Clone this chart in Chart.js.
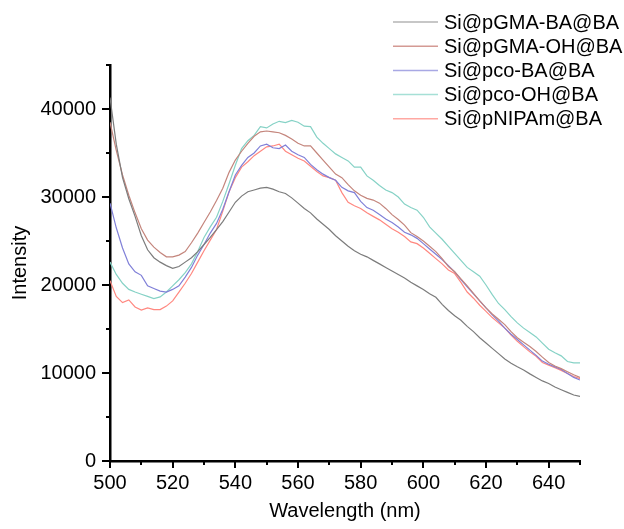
<!DOCTYPE html>
<html>
<head>
<meta charset="utf-8">
<script src="https://cdn.jsdelivr.net/npm/chart.js@4/dist/chart.umd.min.js"></script>
<style>
  body { margin: 0; background: #fff; }
  canvas { display: block; }
</style>
</head>
<body>
<canvas id="chart" width="624" height="529"></canvas>
<script>
// wavelength (nm), every 2 nm
var wavelengths = [500, 502, 504, 506, 508, 510, 512, 514, 516, 518, 520, 522, 524, 526, 528,
    530, 532, 534, 536, 538, 540, 542, 544, 546, 548, 550, 552, 554, 556, 558,
    560, 562, 564, 566, 568, 570, 572, 574, 576, 578, 580, 582, 584, 586, 588,
    590, 592, 594, 596, 598, 600, 602, 604, 606, 608, 610, 612, 614, 616, 618,
    620, 622, 624, 626, 628, 630, 632, 634, 636, 638, 640, 642, 644, 646, 648, 650];

var pGMA_BA = [41300, 36000, 32200, 29800, 27800, 25600, 24000, 23100, 22600, 22200, 21900, 22100, 22600, 23100, 23800,
    24600, 25400, 26300, 27200, 28300, 29400, 30100, 30600, 30800, 31000, 31100, 30900, 30600, 30400, 29900,
    29300, 28700, 28200, 27500, 26900, 26300, 25600, 25000, 24400, 23900, 23500, 23200, 22800, 22400, 22000,
    21600, 21200, 20800, 20300, 19900, 19500, 19000, 18600, 17800, 17100, 16500, 16000, 15300, 14700, 14000,
    13400, 12800, 12200, 11600, 11100, 10700, 10350, 9900, 9500, 9100, 8800, 8400, 8100, 7800, 7500, 7350];

var pGMA_OH = [38500, 35300, 32500, 30200, 28200, 26400, 25100, 24300, 23700, 23200, 23200, 23400, 23800, 24800, 25900,
    27100, 28300, 29600, 31000, 32800, 34200, 35200, 36100, 36900, 37400, 37500, 37400, 37300, 37000, 36600,
    36100, 35800, 35800, 35000, 34200, 33400, 32600, 32200, 31400, 30700, 30200, 29850, 29650, 29300, 28700,
    28000, 27450, 26800, 25950, 25500, 25000, 24400, 23800, 23000, 22100, 21500, 20700, 19900, 19050, 18200,
    17400, 16700, 16100, 15500, 14700, 14000, 13500, 13000, 12450, 11800, 11200, 10800, 10500, 10150, 9800, 9500];

var pco_BA = [29300, 26500, 24200, 22400, 21500, 21100, 19900, 19600, 19300, 19200, 19500, 19900, 20900, 22000, 23400,
    24600, 25900, 27000, 28600, 30600, 32500, 33600, 34500, 35000, 35800, 36000, 35600, 35500, 35900, 35200,
    34800, 34500, 33700, 33100, 32600, 32200, 31900, 31100, 30700, 30500, 29500, 28800, 28500, 28000, 27500,
    27100, 26600, 26000, 25700, 25300, 24700, 24100, 23500, 22900, 22200, 21500, 20600, 19800, 19000, 18200,
    17400, 16600, 15900, 15100, 14400, 13800, 13200, 12600, 12000, 11350, 11000, 10700, 10400, 9950, 9500, 9200];

var pco_OH = [22600, 21200, 20200, 19500, 19200, 18950, 18700, 18450, 18650, 19200, 19900, 20600, 21400, 22400, 23800,
    25400, 26600, 27700, 29500, 31500, 33600, 35500, 36400, 37000, 38000, 37850, 38300, 38600, 38450, 38700,
    38500, 38050, 38000, 36800, 36100, 35500, 34900, 34500, 34100, 33400, 33400, 32400, 31900, 31300, 30800,
    30500, 30000, 29200, 28800, 28500, 27700, 26600, 25900, 25200, 24400, 23600, 22800, 22000, 21500, 21000,
    20000, 18900, 17900, 17200, 16400, 15700, 15100, 14600, 14100, 13400, 12700, 12300, 11950, 11300, 11150, 11150];

var pNIPAm = [20500, 18700, 18000, 18300, 17500, 17150, 17400, 17200, 17200, 17600, 18200, 19200, 20200, 21300, 22600,
    23900, 25100, 26300, 28400, 30600, 32200, 33400, 34000, 34700, 35200, 35700, 35800, 36000, 35200, 34800,
    34400, 34100, 33500, 32900, 32400, 32200, 31900, 30500, 29400, 29000, 28700, 28200, 27800, 27400, 26900,
    26400, 26000, 25500, 24900, 24700, 24200, 23600, 23000, 22400, 21700, 21300, 20300, 19200, 18500, 17700,
    17000, 16300, 15700, 15100, 14300, 13600, 13000, 12400, 11900, 11200, 10900, 10600, 10300, 9950, 9600, 9350];

var seriesNames = ['Si@pGMA-BA@BA', 'Si@pGMA-OH@BA', 'Si@pco-BA@BA', 'Si@pco-OH@BA', 'Si@pNIPAm@BA'];
var seriesData = [pGMA_BA, pGMA_OH, pco_BA, pco_OH, pNIPAm];
var seriesColors = ['#7c7c7c', '#c4857c', '#8080d8', '#86d2c6', '#ff8880'];
var legendColors = ['#b4b4b4', '#d49a94', '#a8a8e4', '#a6e0d6', '#ffa8a2'];

var FONT = "'Liberation Sans', Arial, sans-serif";

function points(values) {
    var out = [];
    for (var i = 0; i < wavelengths.length; i++) {
        out.push({x: wavelengths[i], y: values[i]});
    }
    return out;
}

var datasets = [];
for (var k = 0; k < seriesNames.length; k++) {
    datasets.push({
        label: seriesNames[k],
        data: points(seriesData[k]),
        borderColor: seriesColors[k],
        borderWidth: 1.2,
        pointRadius: 0,
        tension: 0,
        fill: false
    });
}

// tick marks: long at labelled values, short in between
var tickPlugin = {
    id: 'ticks',
    afterDraw: function (chart) {
        var ctx = chart.ctx;
        var xs = chart.scales.x, ys = chart.scales.y;
        var area = chart.chartArea;
        ctx.save();
        ctx.strokeStyle = '#000';
        ctx.lineWidth = 2;
        ctx.beginPath();
        for (var v = 500; v <= 650; v += 10) {
            var px = Math.round(xs.getPixelForValue(v));
            var len = (v % 20 == 0 && v < 650) ? 7 : 4;
            ctx.moveTo(px, area.bottom);
            ctx.lineTo(px, area.bottom + len);
        }
        for (var w = 0; w <= 45000; w += 5000) {
            var py = Math.round(ys.getPixelForValue(w));
            var l2 = (w % 10000 == 0) ? 8 : 4;
            ctx.moveTo(area.left, py);
            ctx.lineTo(area.left - l2, py);
        }
        ctx.stroke();
        ctx.restore();
    }
};

// legend in the top right corner, no box
var legendPlugin = {
    id: 'cornerLegend',
    afterDraw: function (chart) {
        var ctx = chart.ctx;
        ctx.save();
        ctx.font = '20px ' + FONT;
        ctx.textBaseline = 'middle';
        ctx.fillStyle = '#000';
        for (var i = 0; i < chart.data.datasets.length; i++) {
            var ds = chart.data.datasets[i];
            var y = 22 + i * 24.2;
            ctx.strokeStyle = legendColors[i];
            ctx.lineWidth = 1.5;
            ctx.beginPath();
            ctx.moveTo(393, y);
            ctx.lineTo(438, y);
            ctx.stroke();
            ctx.fillText(ds.label, 444, y + 1);
        }
        ctx.restore();
    }
};

var chart = new Chart(document.getElementById('chart'), {
    type: 'line',
    data: {datasets: datasets},
    options: {
        responsive: false,
        animation: false,
        layout: {padding: {top: 65, right: 44, left: 0, bottom: 0}},
        plugins: {legend: {display: false}, tooltip: {enabled: false}},
        scales: {
            x: {
                type: 'linear',
                min: 500,
                max: 650,
                afterFit: function (scale) { scale.height = 68; },
                grid: {display: true, drawOnChartArea: false, drawTicks: false},
                border: {display: true, color: '#000', width: 2.5},
                ticks: {
                    stepSize: 10,
                    autoSkip: false,
                    maxRotation: 0,
                    padding: 10,
                    color: '#000',
                    font: {family: FONT, size: 20},
                    callback: function (v) { return (v % 20 == 0 && v < 650) ? String(v) : ''; }
                },
                title: {
                    display: true,
                    text: 'Wavelength (nm)',
                    color: '#000',
                    font: {family: FONT, size: 20},
                    padding: {top: 0, bottom: 6}
                }
            },
            y: {
                min: 0,
                max: 45000,
                afterFit: function (scale) { scale.width = 110; },
                grid: {display: true, drawOnChartArea: false, drawTicks: false},
                border: {display: true, color: '#000', width: 2.5},
                ticks: {
                    stepSize: 5000,
                    autoSkip: false,
                    padding: 14,
                    color: '#000',
                    font: {family: FONT, size: 20},
                    callback: function (v) { return (v % 10000 == 0) ? String(v) : ''; }
                },
                title: {
                    display: true,
                    text: 'Intensity',
                    color: '#000',
                    font: {family: FONT, size: 20},
                    padding: {top: 8, bottom: 0}
                }
            }
        }
    },
    plugins: [tickPlugin, legendPlugin]
});
</script>
</body>
</html>
